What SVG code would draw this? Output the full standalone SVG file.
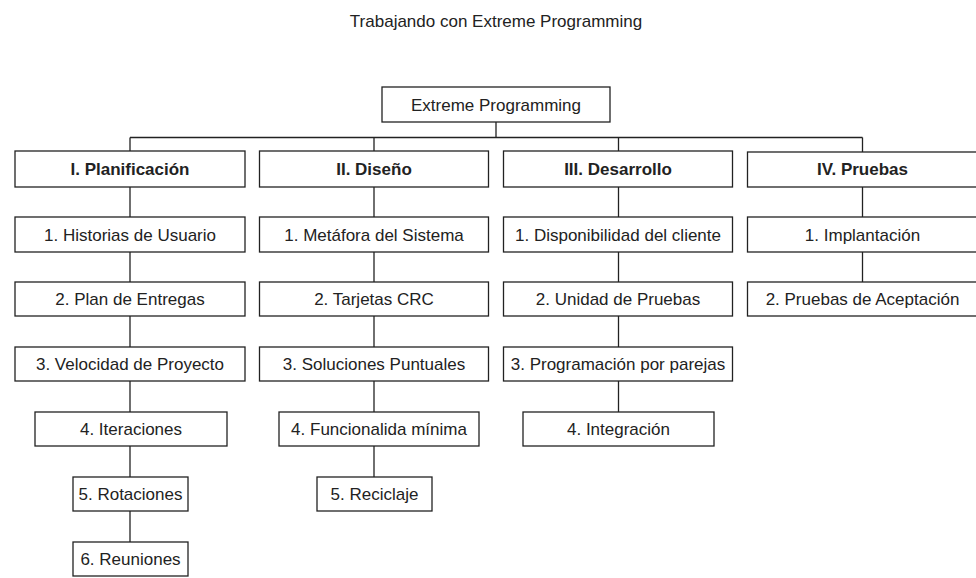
<svg xmlns="http://www.w3.org/2000/svg" width="976" height="578" viewBox="0 0 976 578">
<style>
  .box { fill: #ffffff; stroke: #222222; stroke-width: 1.3; }
  .conn { stroke: #222222; stroke-width: 1.3; fill: none; }
  .t { font-family: "Liberation Sans", Arial, sans-serif; font-size: 17px; fill: #222222; text-anchor: middle; }
  .b { font-weight: bold; }
</style>
<rect x="0" y="0" width="976" height="578" fill="#ffffff"/>
<text class="t" x="496" y="27">Trabajando con Extreme Programming</text>

<g id="connectors">
  <path class="conn" d="M496,122 V137.5 M130,137.5 H862.5 M130,137.5 V151 M374,137.5 V151 M618.5,137.5 V151 M862.5,137.5 V152"/>
  <path class="conn" d="M130,187 V542"/>
  <path class="conn" d="M374,187 V477"/>
  <path class="conn" d="M618.5,187 V412"/>
  <path class="conn" d="M862.5,187 V282"/>
</g>

<g id="root"><rect class="box" x="382" y="87" width="228" height="35"/><text class="t" x="496" y="110.5">Extreme Programming</text></g>

<g id="planificacion"><rect class="box" x="15" y="151" width="230" height="36"/><text class="t b" x="130" y="175">I. Planificación</text></g>
<g id="diseno"><rect class="box" x="259.5" y="151" width="229" height="36"/><text class="t b" x="374" y="175">II. Diseño</text></g>
<g id="desarrollo"><rect class="box" x="503.5" y="151" width="229" height="36"/><text class="t b" x="618" y="175">III. Desarrollo</text></g>
<g id="pruebas"><rect class="box" x="747.5" y="152" width="232" height="35"/><text class="t b" x="862.5" y="175">IV. Pruebas</text></g>

<g id="p1"><rect class="box" x="15" y="217" width="230" height="35"/><text class="t" x="130" y="240.5">1. Historias de Usuario</text></g>
<g id="p2"><rect class="box" x="15" y="282" width="230" height="34"/><text class="t" x="130" y="305">2. Plan de Entregas</text></g>
<g id="p3"><rect class="box" x="15" y="347" width="230" height="34"/><text class="t" x="130" y="370">3. Velocidad de Proyecto</text></g>
<g id="p4"><rect class="box" x="35" y="412" width="192" height="34"/><text class="t" x="131" y="435">4. Iteraciones</text></g>
<g id="p5"><rect class="box" x="73" y="477" width="115" height="34"/><text class="t" x="130.5" y="500">5. Rotaciones</text></g>
<g id="p6"><rect class="box" x="73" y="542" width="115" height="34"/><text class="t" x="130.5" y="565">6. Reuniones</text></g>

<g id="d1"><rect class="box" x="259.5" y="217" width="229" height="35"/><text class="t" x="374" y="240.5">1. Metáfora del Sistema</text></g>
<g id="d2"><rect class="box" x="259.5" y="282" width="229" height="34"/><text class="t" x="374" y="305">2. Tarjetas CRC</text></g>
<g id="d3"><rect class="box" x="259.5" y="347" width="229" height="34"/><text class="t" x="374" y="370">3. Soluciones Puntuales</text></g>
<g id="d4"><rect class="box" x="279" y="412" width="200" height="34"/><text class="t" x="379" y="435">4. Funcionalida mínima</text></g>
<g id="d5"><rect class="box" x="317" y="477" width="115" height="34"/><text class="t" x="374.5" y="500">5. Reciclaje</text></g>

<g id="s1"><rect class="box" x="503.5" y="217" width="229" height="35"/><text class="t" x="618" y="240.5">1. Disponibilidad del cliente</text></g>
<g id="s2"><rect class="box" x="503.5" y="282" width="229" height="34"/><text class="t" x="618" y="305">2. Unidad de Pruebas</text></g>
<g id="s3"><rect class="box" x="503.5" y="347" width="229" height="34"/><text class="t" x="618" y="370">3. Programación por parejas</text></g>
<g id="s4"><rect class="box" x="523" y="412" width="191" height="34"/><text class="t" x="618.5" y="435">4. Integración</text></g>

<g id="r1"><rect class="box" x="747.5" y="217" width="232" height="35"/><text class="t" x="862.5" y="240.5">1. Implantación</text></g>
<g id="r2"><rect class="box" x="747.5" y="282" width="232" height="34"/><text class="t" x="862.5" y="305">2. Pruebas de Aceptación</text></g>
</svg>
